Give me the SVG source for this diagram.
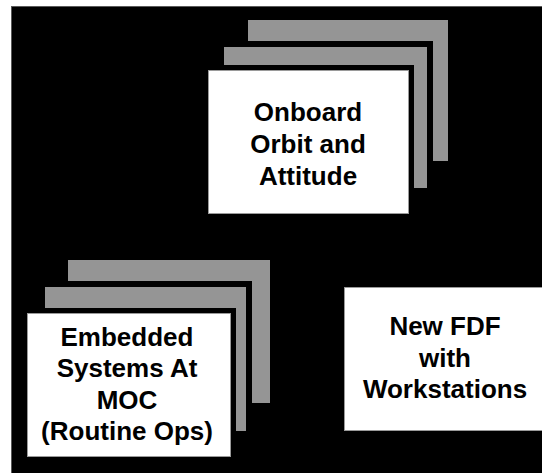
<svg xmlns="http://www.w3.org/2000/svg" width="542" height="473" viewBox="0 0 542 473">
  <style>
    .backdrop { fill: #000; stroke: #5a5a5a; stroke-width: 1; }
    .sheet { fill: #959595; }
    .sheet-mid { fill: #959595; stroke: #000; stroke-width: 12; paint-order: stroke; }
    .card-halo { fill: #fff; stroke: #000; stroke-width: 10; paint-order: stroke; }
    .card-edge { fill: none; stroke: #9a9a9a; stroke-width: 1; }
    .card { fill: #fff; stroke: #9a9a9a; stroke-width: 1; }
    .label { font-family: "Liberation Sans", Arial, Helvetica, sans-serif; font-weight: bold; font-size: 26px; fill: #000; text-anchor: middle; }
  </style>

  <rect width="542" height="473" fill="#fff"/>
  <rect class="backdrop" x="11.5" y="6.5" width="540" height="470"/>

  <!-- Stack: onboard orbit and attitude -->
  <g id="onboard">
    <rect class="sheet" x="248" y="20" width="200" height="141"/>
    <rect class="sheet-mid" x="224" y="47" width="203" height="141"/>
    <rect class="card-halo" x="208" y="70" width="201" height="144"/>
    <rect class="card-edge" x="208.5" y="70.5" width="200" height="143"/>
    <text class="label" x="308" y="121">Onboard</text>
    <text class="label" x="308" y="153">Orbit and</text>
    <text class="label" x="308" y="185">Attitude</text>
  </g>

  <!-- Stack: embedded systems at MOC -->
  <g id="embedded">
    <rect class="sheet" x="68" y="260" width="202" height="143"/>
    <rect class="sheet-mid" x="45" y="287" width="201" height="144"/>
    <rect class="card-halo" x="27" y="313" width="204" height="144"/>
    <rect class="card-edge" x="27.5" y="313.5" width="203" height="143"/>
    <text class="label" x="127" y="346">Embedded</text>
    <text class="label" x="127" y="377">Systems At</text>
    <text class="label" x="127" y="409">MOC</text>
    <text class="label" x="127" y="440">(Routine Ops)</text>
  </g>

  <!-- Single card: new FDF -->
  <g id="new-fdf">
    <rect class="card" x="344.5" y="287.5" width="202" height="143"/>
    <text class="label" x="445" y="335">New FDF</text>
    <text class="label" x="445" y="367">with</text>
    <text class="label" x="445" y="398">Workstations</text>
  </g>

  <g id="connectors"/>
</svg>
